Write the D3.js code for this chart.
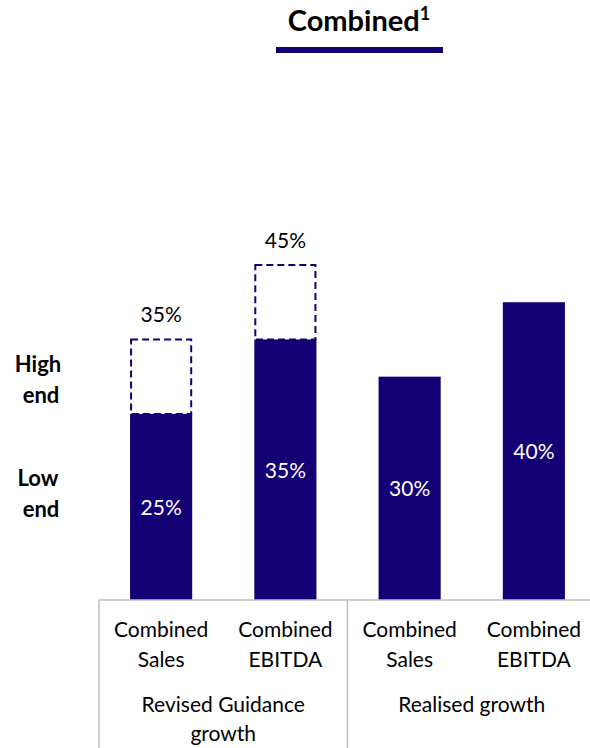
<!DOCTYPE html>
<html><head><meta charset="utf-8">
<script src="https://cdn.jsdelivr.net/npm/d3@7"></script>
<style>
html,body{margin:0;padding:0;background:#fff;}
svg{display:block;font-family:Lato,"Open Sans",sans-serif;}
</style></head>
<body>
<svg id="chart" width="590" height="748"></svg>
<script>
// ---- data ----
const categories = ["gs","ge","rs","re"];
const catLines = [["Combined","Sales"],["Combined","EBITDA"],["Combined","Sales"],["Combined","EBITDA"]];
const lowValues = [25, 35, 30, 40];          // solid bars
const highValues = [35, 45, null, null];     // dashed range top
const groups = ["Revised Guidance growth", "Realised growth"];
const groupLines = [["Revised Guidance","growth"],["Realised growth"]];
const groupMembers = [["gs","ge"],["rs","re"]];
const title = "Combined";
const titleSup = "1";

const color = "#130075";
const gridColor = "#bfbfbf";

const svg = d3.select("#chart");
const x = d3.scaleBand().domain(categories).range([99, 596]).paddingInner(0.5).paddingOuter(0.25);
const y = d3.scaleLinear().domain([0, 45]).range([600, 265]);

// Title
const t = svg.append("text").attr("x", 359).attr("y", 31).attr("text-anchor","middle")
  .attr("font-weight","bold").attr("font-size",29).attr("fill","#000");
t.append("tspan").text(title);
t.append("tspan").attr("font-size",18).attr("dy",-11).text(titleSup);
svg.append("rect").attr("x",276).attr("y",47).attr("width",167).attr("height",6).attr("fill",color);

// Bars
const data = categories.map((c,i)=>({c, low: lowValues[i], high: highValues[i]}));
svg.selectAll("rect.bar").data(data).join("rect").attr("class","bar")
  .attr("x", d=>x(d.c)).attr("width", x.bandwidth())
  .attr("y", d=>y(d.low)).attr("height", d=>y(0)-y(d.low)).attr("fill", color);

// dashed ranges
svg.selectAll("rect.range").data(data.filter(d=>d.high!=null)).join("rect").attr("class","range")
  .attr("x", d=>x(d.c)+1).attr("width", x.bandwidth()-2)
  .attr("y", d=>y(d.high)).attr("height", d=>y(d.low)-y(d.high))
  .attr("fill","none").attr("stroke",color).attr("stroke-width",2).attr("stroke-dasharray","7,4");

// inner labels
svg.selectAll("text.inner").data(data).join("text").attr("class","inner")
  .attr("x", d=>x(d.c)+x.bandwidth()/2).attr("y", d=>(y(d.low)+y(0))/2+8)
  .attr("text-anchor","middle").attr("font-size",21).attr("fill","#fff")
  .text(d=>d.low+"%");

// high labels
svg.selectAll("text.high").data(data.filter(d=>d.high!=null)).join("text").attr("class","high")
  .attr("x", d=>x(d.c)+x.bandwidth()/2).attr("y", d=>y(d.high)-17)
  .attr("text-anchor","middle").attr("font-size",21).attr("fill","#000")
  .text(d=>d.high+"%");

// Left labels
const leftLabels = [{lines:["High","end"], y0:372},{lines:["Low","end"], y0:486}];
leftLabels.forEach(l=>{
  const tx = svg.append("text").attr("font-weight","bold").attr("font-size",22).attr("text-anchor","middle").attr("fill","#000");
  l.lines.forEach((s,i)=>tx.append("tspan").attr("x", i===0?38:41).attr("y", l.y0 + i*31).text(s));
});

// Axis lines
const axisY = y(0);
svg.append("line").attr("x1",99).attr("x2",590).attr("y1",axisY).attr("y2",axisY)
  .attr("stroke",gridColor).attr("stroke-width",1.5);
const groupBounds = groupMembers.map(m=>[x(m[0]) - x.step()*0.25, x(m[m.length-1]) + x.bandwidth() + x.step()*0.25]);
const dividers = [groupBounds[0][0], (groupBounds[0][1]+groupBounds[1][0])/2, groupBounds[1][1]];
dividers.forEach(dx=>{
  svg.append("line").attr("x1",dx).attr("x2",dx).attr("y1",axisY).attr("y2",748)
    .attr("stroke",gridColor).attr("stroke-width",1.5);
});

// Category labels
categories.forEach((c,i)=>{
  const tx = svg.append("text").attr("font-size",21).attr("text-anchor","middle").attr("fill","#000");
  catLines[i].forEach((s,j)=>tx.append("tspan").attr("x", x(c)+x.bandwidth()/2).attr("y", 637 + j*30).text(s));
});

// Group labels
groups.forEach((g,i)=>{
  const cx = (groupBounds[i][0]+groupBounds[i][1])/2;
  const tx = svg.append("text").attr("font-size",21).attr("text-anchor","middle").attr("fill","#000");
  groupLines[i].forEach((s,j)=>tx.append("tspan").attr("x", cx).attr("y", 712 + j*29).text(s));
});
</script>
</body></html>
